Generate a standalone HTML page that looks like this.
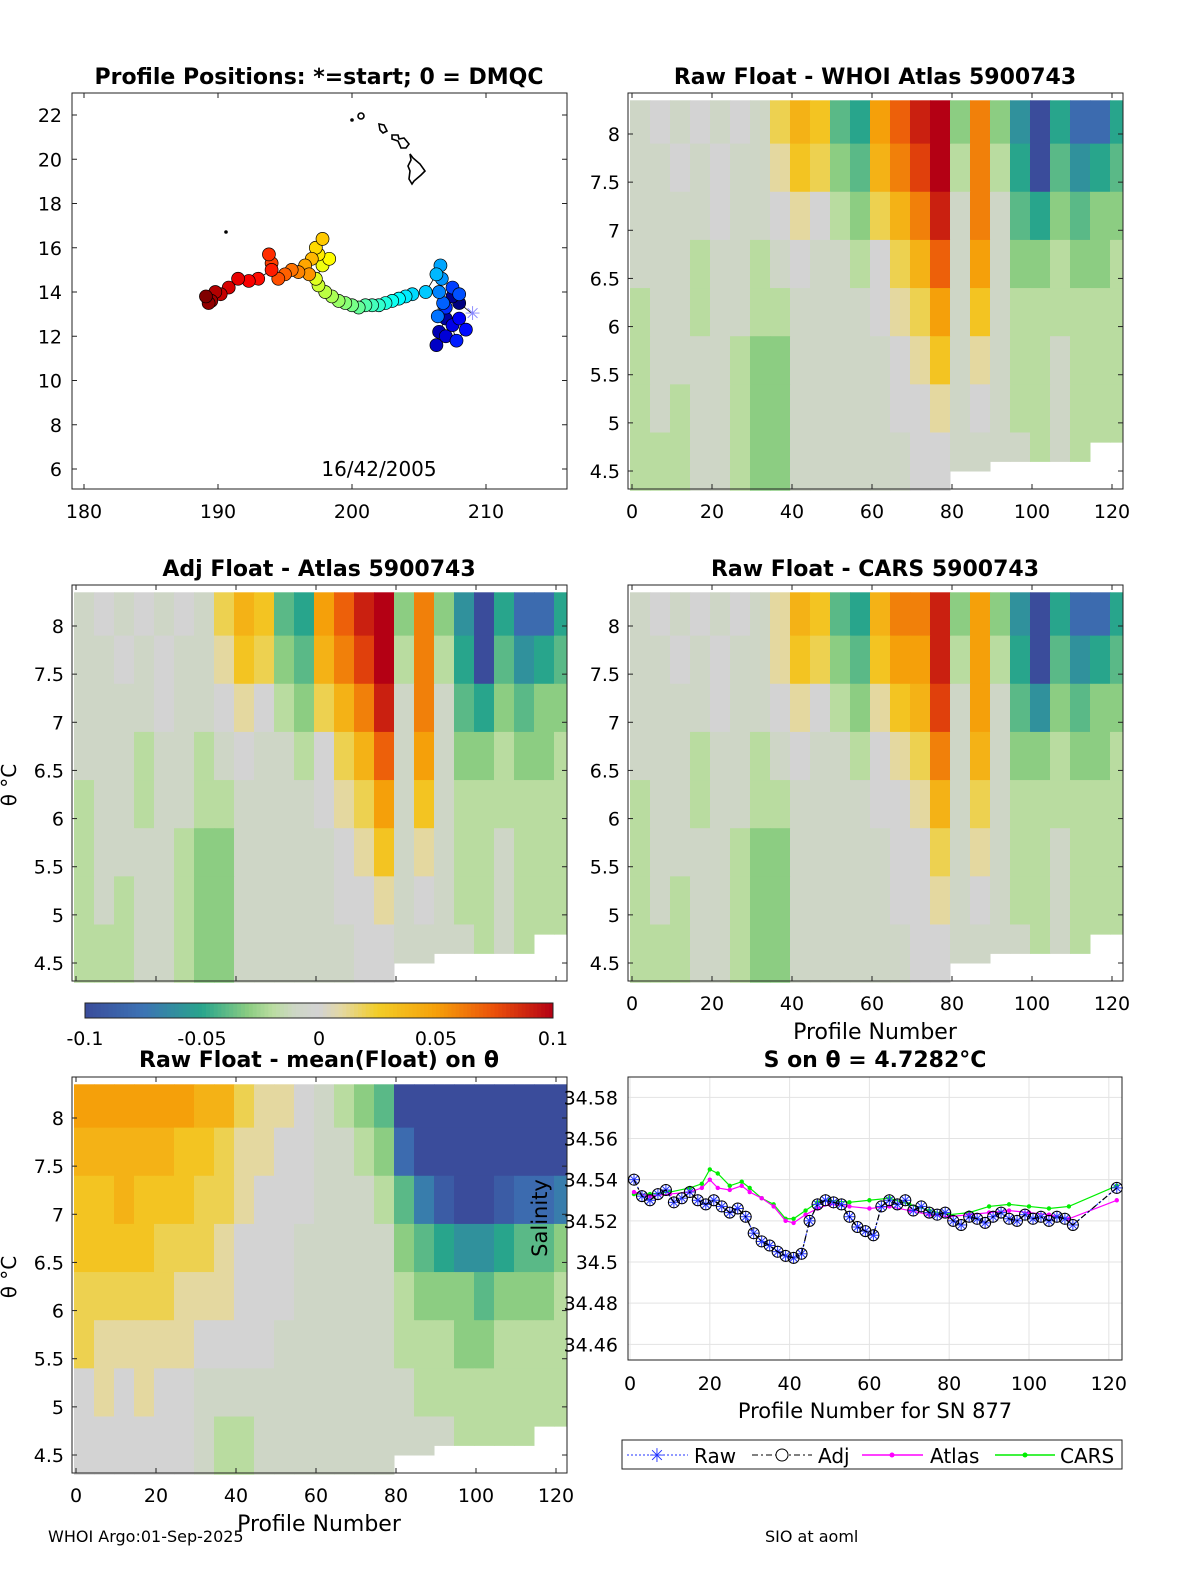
<!DOCTYPE html>
<html><head><meta charset="utf-8"><style>
body{margin:0;background:#fff;}
svg{display:block;font-family:"DejaVu Sans","Liberation Sans",sans-serif;}
.t{font-size:22px;font-weight:bold;text-anchor:middle;}
.k{font-size:19px;}
</style></head><body>
<svg id="s" width="1200" height="1575" viewBox="0 0 1200 1575" xmlns="http://www.w3.org/2000/svg"></svg>
<script>
// ---------- data ----------
const profCols=[0,5,10,15,20,25,30,35,40,45,50,55,60,65,70,75,80,85,90,95,100,105,110,115,120];
const colBottom=[4.3,4.3,4.3,4.3,4.3,4.3,4.3,4.3,4.3,4.3,4.3,4.3,4.3,4.3,4.3,4.3,4.5,4.5,4.6,4.6,4.6,4.6,4.6,4.8,4.8];
const gridAtlas=[
[-1,0,-1,0,-1,0,-1,2,4,3,-4,-5,5,7,9,10,-3,6,-3,-6,-10,-5,-8,-8,-5],
[-1,-1,0,-1,0,-1,-1,1,3,2,-3,-4,4,6,8,10,-2,6,-2,-5,-10,-4,-6,-5,-4],
[-1,-1,-1,-1,0,-1,-1,0,1,0,-2,-3,2,4,6,9,-1,6,-1,-4,-5,-3,-4,-3,-3],
[-1,-1,-1,-2,-1,-1,-2,-1,0,-1,-1,-2,0,2,4,7,-1,5,-1,-3,-3,-2,-3,-3,-2],
[-2,-1,-1,-2,-1,-1,-2,-2,-1,-1,-1,-1,0,1,2,5,-1,3,-1,-2,-2,-2,-2,-2,-2],
[-2,-1,-1,-1,-1,-2,-3,-3,-1,-1,-1,-1,-1,0,1,3,-1,1,-1,-2,-2,-1,-2,-2,-2],
[-2,-1,-2,-1,-1,-2,-3,-3,-1,-1,-1,-1,-1,0,0,1,-1,0,-1,-2,-2,-1,-2,-2,-2],
[-2,-2,-2,-1,-1,-2,-3,-3,-1,-1,-1,-1,-1,-1,0,0,-1,-1,-1,-1,-2,-1,-2,-2,-2]];
const gridCars=[
[-1,0,-1,0,-1,0,-1,1,4,3,-4,-5,4,6,6,9,-3,5,-3,-6,-10,-5,-8,-8,-5],
[-1,-1,0,-1,0,-1,-1,1,3,2,-3,-4,3,5,5,9,-2,5,-2,-5,-10,-4,-6,-5,-4],
[-1,-1,-1,-1,0,-1,-1,0,1,0,-2,-3,1,3,4,8,-1,5,-1,-4,-6,-3,-4,-3,-3],
[-1,-1,-1,-2,-1,-1,-2,-1,0,-1,-1,-2,0,1,2,6,-1,4,-1,-3,-3,-2,-3,-3,-2],
[-2,-1,-1,-2,-1,-1,-2,-2,-1,-1,-1,-1,0,0,1,4,-1,2,-1,-2,-2,-2,-2,-2,-2],
[-2,-1,-1,-1,-1,-2,-3,-3,-1,-1,-1,-1,-1,0,0,2,-1,1,-1,-2,-2,-1,-2,-2,-2],
[-2,-1,-2,-1,-1,-2,-3,-3,-1,-1,-1,-1,-1,0,0,1,-1,0,-1,-2,-2,-1,-2,-2,-2],
[-2,-2,-2,-1,-1,-2,-3,-3,-1,-1,-1,-1,-1,-1,0,0,-1,-1,-1,-1,-2,-1,-2,-2,-2]];
const gridMean=[
[5,5,5,5,5,5,4,4,2,1,1,0,-1,-2,-3,-4,-10,-10,-10,-10,-10,-10,-10,-10,-10],
[4,4,4,4,4,3,3,2,1,1,0,0,-1,-1,-2,-3,-8,-10,-10,-10,-10,-10,-10,-10,-10],
[3,3,4,3,3,3,2,2,1,0,0,0,-1,-1,-1,-2,-4,-7,-9,-10,-10,-9,-8,-8,-7],
[3,3,3,3,2,2,2,1,0,0,0,-1,-1,-1,-1,-1,-3,-4,-5,-6,-6,-5,-4,-4,-3],
[2,2,2,2,2,1,1,1,0,0,0,-1,-1,-1,-1,-1,-2,-3,-3,-3,-4,-3,-3,-3,-2],
[2,1,1,1,1,1,0,0,0,0,-1,-1,-1,-1,-1,-1,-2,-2,-2,-3,-3,-2,-2,-2,-2],
[0,1,0,1,0,0,-1,-1,-1,-1,-1,-1,-1,-1,-1,-1,-1,-2,-2,-2,-2,-2,-2,-2,-2],
[0,0,0,0,0,0,-1,-2,-2,-1,-1,-1,-1,-1,-1,-1,-1,-1,-1,-2,-2,-2,-2,-2,-2]];
const trackLon=[208,207.5,207,206.5,206.3,207,207.5,208,208.5,207.8,207,207.5,208,206.8,206.4,206.5,206.7,206.6,206.3,205.5,204.5,204,203.5,203,202.5,202,201.5,201,200.5,200,199.5,199,198.5,198,197.5,197.3,197.8,198.3,197.5,197.3,197.8,197,196.5,196.8,196,195.5,195,194.5,194,193.8,194,193,192.3,191.5,190.8,190.2,189.8,189.5,189.3,189.1];
const trackLat=[13.5,13.8,12.8,12.2,11.6,12,12.5,12.8,12.3,11.8,13.3,14.2,13.9,13.5,12.9,14,14.6,15.2,14.8,14.0,13.9,13.8,13.7,13.6,13.5,13.4,13.4,13.4,13.3,13.4,13.5,13.6,13.8,14.0,14.3,14.6,15.2,15.5,15.7,16.0,16.4,15.5,15.2,14.8,14.9,15.0,14.8,14.6,15.3,15.7,15.0,14.6,14.5,14.6,14.2,13.9,14.0,13.6,13.5,13.8];
const rawP=[1,3,5,7,9,11,13,15,17,19,21,23,25,27,29,31,33,35,37,39,41,43,45,47,49,51,53,55,57,59,61,63,65,67,69,71,73,75,77,79,81,83,85,87,89,91,93,95,97,99,101,103,105,107,109,111,122];
const rawS=[34.540,34.532,34.530,34.533,34.535,34.529,34.531,34.534,34.530,34.528,34.530,34.527,34.524,34.526,34.522,34.514,34.510,34.508,34.505,34.503,34.502,34.504,34.520,34.528,34.530,34.529,34.528,34.522,34.517,34.515,34.513,34.527,34.530,34.528,34.530,34.525,34.527,34.524,34.523,34.524,34.520,34.518,34.522,34.521,34.519,34.522,34.524,34.521,34.520,34.523,34.521,34.522,34.520,34.522,34.521,34.518,34.536];
const adjS=[34.540,34.532,34.530,34.533,34.535,34.529,34.531,34.534,34.530,34.528,34.530,34.527,34.524,34.526,34.522,34.514,34.510,34.508,34.505,34.503,34.502,34.504,34.520,34.528,34.530,34.529,34.528,34.522,34.517,34.515,34.513,34.527,34.530,34.528,34.530,34.525,34.527,34.524,34.523,34.524,34.520,34.518,34.522,34.521,34.519,34.522,34.524,34.521,34.520,34.523,34.521,34.522,34.520,34.522,34.521,34.518,34.536];
const refP=[1,5,10,15,18,20,22,25,28,30,33,36,39,41,44,47,50,55,60,65,70,75,80,85,90,95,100,105,110,122];
const atlasS=[34.534,34.532,34.533,34.534,34.536,34.540,34.536,34.535,34.537,34.534,34.531,34.527,34.520,34.519,34.523,34.526,34.528,34.527,34.526,34.527,34.525,34.523,34.522,34.523,34.524,34.525,34.524,34.523,34.521,34.530];
const carsS=[34.533,34.533,34.534,34.536,34.538,34.545,34.543,34.537,34.539,34.536,34.531,34.528,34.521,34.521,34.525,34.529,34.530,34.529,34.530,34.531,34.528,34.525,34.523,34.524,34.527,34.528,34.527,34.526,34.527,34.537];
const thetaTicks=[4.5,5,5.5,6,6.5,7,7.5,8];
const profTicks=[0,20,40,60,80,100,120];
const salTicks=[34.46,34.48,34.5,34.52,34.54,34.56,34.58];
// ---------- helpers ----------
const S=document.getElementById('s');const NS='http://www.w3.org/2000/svg';
function mk(tag,at,parent){const e=document.createElementNS(NS,tag);for(const k in at)e.setAttribute(k,at[k]);(parent||S).appendChild(e);return e;}
function tx(x,y,str,cls,anchor,parent){const e=mk('text',{x:x,y:y,class:cls||'k','text-anchor':anchor||'middle'},parent);e.textContent=str;return e;}
const stops=[[-0.1,[58,76,155]],[-0.075,[60,115,180]],[-0.05,[40,165,140]],[-0.03,[140,205,130]],[-0.02,[185,220,160]],[-0.01,[206,214,198]],[0,[211,211,211]],[0.01,[228,216,160]],[0.025,[242,205,40]],[0.05,[245,160,10]],[0.075,[235,80,10]],[0.1,[180,0,20]]];
function cmap(v){v=Math.max(-0.1,Math.min(0.1,v));for(let i=0;i<stops.length-1;i++){const a=stops[i],b=stops[i+1];if(v<=b[0]){const t=(v-a[0])/(b[0]-a[0]);const c=a[1].map((x,j)=>Math.round(x+(b[1][j]-x)*t));return 'rgb('+c.join(',')+')';}}return 'rgb(180,0,20)';}
function thetaPanel(L,T,grid,name,ylab,xlab,xticks){
  const g=mk('g',{});
  
  
  const xs=p=>L+4+4*p, ys=th=>T+41+(8-th)*96.29;
  for(let i=0;i<8;i++){for(let j=0;j<profCols.length;j++){
    const top=i==0?8.35:7.9-(i-1)*0.5, bot=i<7?7.9-i*0.5:colBottom[j];
    const x0=xs(profCols[j]-0.5), x1=Math.min(xs(profCols[j]+4.5),L+495);
    const r=mk('rect',{x:x0,y:ys(top),width:x1-x0+0.5,height:ys(bot)-ys(top)+0.5,fill:cmap(grid[i][j]/100)},g);
    
    
  }}
  mk('rect',{x:L,y:T,width:495,height:396,fill:'none',stroke:'#222','stroke-width':1},g);
  thetaTicks.forEach(t=>{const y=ys(t);mk('line',{x1:L,x2:L+5,y1:y,y2:y,stroke:'#222'},g);mk('line',{x1:L+495,x2:L+490,y1:y,y2:y,stroke:'#222'},g);tx(L-8,y+7,String(t),'k','end',g);});
  profTicks.forEach(p=>{const x=xs(p);mk('line',{x1:x,x2:x,y1:T+396,y2:T+391,stroke:'#222'},g);mk('line',{x1:x,x2:x,y1:T,y2:T+5,stroke:'#222'},g);if(xticks)tx(x,T+425,String(p),'k','middle',g);});
  if(ylab){const e=mk('text',{x:0,y:0,class:'k','text-anchor':'middle',transform:'translate(16,'+(T+200)+') rotate(-90)'},g);e.textContent='θ °C';e.style.fontSize='20px';}
  if(xlab){const e=tx(L+247,T+454,'Profile Number','k','middle',g);e.style.fontSize='22px';}
}
// ---------- map ----------
(function(){
  const g=mk('g',{});
  
  
  const L=72,T=93,xs=lon=>84+(lon-180)*13.4,ys=lat=>469-(lat-6)*22.125;
  mk('rect',{x:L,y:T,width:495,height:396,fill:'#fff',stroke:'#222'},g);
  [180,190,200,210].forEach(v=>{const x=xs(v);mk('line',{x1:x,x2:x,y1:T+396,y2:T+391,stroke:'#222'},g);mk('line',{x1:x,x2:x,y1:T,y2:T+5,stroke:'#222'},g);tx(x,T+425,String(v),'k','middle',g);});
  [6,8,10,12,14,16,18,20,22].forEach(v=>{const y=ys(v);mk('line',{x1:L,x2:L+5,y1:y,y2:y,stroke:'#222'},g);mk('line',{x1:L+495,x2:L+490,y1:y,y2:y,stroke:'#222'},g);tx(L-10,y+7,String(v),'k','end',g);});
  const isl=mk('g',{fill:'none',stroke:'#000','stroke-width':1.6},g);
  
  
  mk('circle',{cx:361,cy:116,r:3},isl);mk('circle',{cx:352,cy:120,r:1},isl);
  mk('path',{d:'M379,124 L384,125 L387,131 L383,133 L380,130 Z'},isl);
  mk('path',{d:'M392,135 L398,135 L399,139 L404,138 L409,144 L406,148 L401,148 L398,141 L392,139 Z'},isl);
  mk('path',{d:'M410,154 L413,158 L420,164 L425,171 L421,175 L414,181 L412,184 L409,179 L410,171 L408,166 L411,160 Z'},isl);
  mk('circle',{cx:226,cy:232,r:1,fill:'#000'},isl);
  const n=trackLon.length;
  const pts=[[209,13]].concat(trackLon.map((v,i)=>[v,trackLat[i]]));
  mk('polyline',{points:pts.map(p=>xs(p[0])+','+ys(p[1])).join(' '),fill:'none',stroke:'#000','stroke-width':0.8},g);
  function jet(t){const r=Math.min(Math.max(1.5-Math.abs(4*t-3),0),1),gg=Math.min(Math.max(1.5-Math.abs(4*t-2),0),1),b=Math.min(Math.max(1.5-Math.abs(4*t-1),0),1);return 'rgb('+[r,gg,b].map(c=>Math.round(c*255)).join(',')+')';}
  for(let i=0;i<n;i++){const c=mk('circle',{cx:xs(trackLon[i]),cy:ys(trackLat[i]),r:6.5,fill:jet(i/(n-1)),stroke:'#000','stroke-width':0.7},g);
    
    }
  tx(xs(209),ys(13)+6,'✳','k','middle',g).setAttribute('fill','#88f');
  tx(379,476,'16/42/2005','k','middle',g).style.fontSize='20px';
  tx(319,84,'Profile Positions: *=start; 0 = DMQC','t','middle',g);
})();
// ---------- theta panels ----------
thetaPanel(628,93,gridAtlas,'raw-minus-atlas-panel',false,false,true);
tx(875,84,'Raw Float - WHOI Atlas  5900743','t');
thetaPanel(72,585,gridAtlas,'adj-minus-atlas-panel',true,false,false);
tx(319,576,'Adj Float - Atlas  5900743','t');
thetaPanel(628,585,gridCars,'raw-minus-cars-panel',false,true,true);
tx(875,576,'Raw Float - CARS  5900743','t');
thetaPanel(72,1077,gridMean,'raw-minus-mean-panel',true,true,true);
tx(319,1067,'Raw Float - mean(Float) on θ','t');
// ---------- colorbar ----------
(function(){
  const g=mk('g',{});
  
  
  for(let i=0;i<120;i++){const v=-0.1+0.2*(i+0.5)/120;mk('rect',{x:85+i*468/120,y:1003,width:468/120+0.5,height:15,fill:cmap(v)},g);}
  mk('rect',{x:85,y:1003,width:468,height:15,fill:'none',stroke:'#222'},g);
  [[-0.1,'-0.1'],[-0.05,'-0.05'],[0,'0'],[0.05,'0.05'],[0.1,'0.1']].forEach(a=>{const x=85+(a[0]+0.1)/0.2*468;tx(x,1045,a[1],'k','middle',g);});
})();
// ---------- salinity panel ----------
(function(){
  const g=mk('g',{});
  
  
  const L=628,T=1077,W=494,H=283;
  const xs=p=>630+3.99*p, ys=s=>1262-(s-34.5)*2058;
  mk('rect',{x:L,y:T,width:W,height:H,fill:'#fff'},g);
  profTicks.forEach(p=>{const x=xs(p);mk('line',{x1:x,x2:x,y1:T,y2:T+H,stroke:'#e3e3e3'},g);tx(x,T+313,String(p),'k','middle',g);});
  salTicks.forEach(s=>{const y=ys(s);mk('line',{x1:L,x2:L+W,y1:y,y2:y,stroke:'#e3e3e3'},g);tx(L-10,y+7,String(s),'k','end',g);});
  mk('rect',{x:L,y:T,width:W,height:H,fill:'none',stroke:'#222'},g);
  const ye=mk('text',{x:0,y:0,class:'k','text-anchor':'middle',transform:'translate(547,1218) rotate(-90)'},g);ye.textContent='Salinity';ye.style.fontSize='21px';
  function line(P,V,col,dash,name){const pl=mk('polyline',{points:P.map((p,i)=>xs(p)+','+ys(V[i])).join(' '),fill:'none',stroke:col,'stroke-width':1.2,'stroke-dasharray':dash||''},g);}
  line(refP,carsS,'#00ee00','','cars-line');
  refP.forEach((p,i)=>mk('circle',{cx:xs(p),cy:ys(carsS[i]),r:2.2,fill:'#00ee00'},g));
  line(refP,atlasS,'#ff00ff','','atlas-line');
  refP.forEach((p,i)=>mk('circle',{cx:xs(p),cy:ys(atlasS[i]),r:2.2,fill:'#ff00ff'},g));
  line(rawP,rawS,'#2233ff','2 2','raw-line');
  rawP.forEach((p,i)=>{const x=xs(p),y=ys(rawS[i]);[[0,6],[6,0],[4,4],[4,-4]].forEach(d=>mk('line',{x1:x-d[0],y1:y-d[1],x2:x+d[0],y2:y+d[1],stroke:'#2233ff','stroke-width':1},g));});
  line(rawP,adjS,'#000','6 3 2 3','adj-line');
  rawP.forEach((p,i)=>mk('circle',{cx:xs(p),cy:ys(adjS[i]),r:5.5,fill:'none',stroke:'#000','stroke-width':1},g));
  tx(875,1067,'S on θ = 4.7282°C','t');
  tx(875,1418,'Profile Number for SN 877','k').style.fontSize='21px';
  const lg=mk('g',{},g);
  
  
  mk('rect',{x:622,y:1440,width:500,height:29,fill:'#fff',stroke:'#222'},lg);
  mk('line',{x1:627,x2:688,y1:1455,y2:1455,stroke:'#2233ff','stroke-dasharray':'2 2'},lg);
  tx(657,1462,'✳','k','middle',lg).setAttribute('fill','#2233ff');
  tx(694,1463,'Raw','k','start',lg).style.fontSize='20px';
  mk('line',{x1:752,x2:812,y1:1455,y2:1455,stroke:'#000','stroke-dasharray':'6 3 2 3'},lg);
  mk('circle',{cx:782,cy:1455,r:6,fill:'#fff',stroke:'#000'},lg);
  tx(818,1463,'Adj','k','start',lg).style.fontSize='20px';
  mk('line',{x1:862,x2:923,y1:1455,y2:1455,stroke:'#ff00ff','stroke-width':1.5},lg);
  mk('circle',{cx:892,cy:1455,r:2.5,fill:'#ff00ff'},lg);
  tx(930,1463,'Atlas','k','start',lg).style.fontSize='20px';
  mk('line',{x1:995,x2:1055,y1:1455,y2:1455,stroke:'#00ee00','stroke-width':1.5},lg);
  mk('circle',{cx:1025,cy:1455,r:2.5,fill:'#00ee00'},lg);
  tx(1060,1463,'CARS','k','start',lg).style.fontSize='20px';
})();
tx(48,1542,'WHOI Argo:01-Sep-2025','k','start').style.fontSize='16px';
tx(765,1542,'SIO at aoml','k','start').style.fontSize='16px';
</script>
</body></html>
